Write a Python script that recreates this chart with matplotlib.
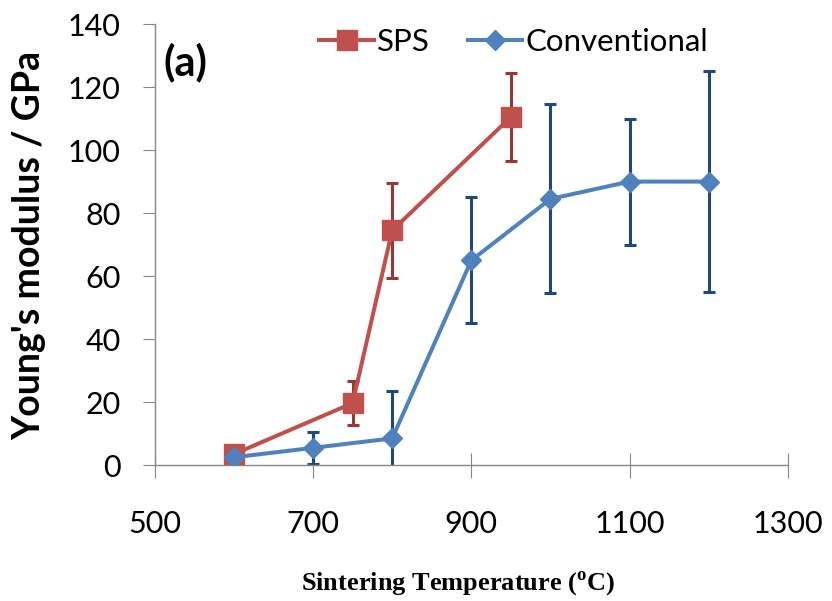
import matplotlib.pyplot as plt

plt.rcParams['mathtext.fontset'] = 'custom'
plt.rcParams['mathtext.rm'] = 'Liberation Serif'
plt.rcParams['mathtext.bf'] = 'Liberation Serif:bold'

# data
sps_t = [600, 750, 800, 950]
sps_e = [3.5, 19.7, 74.5, 110.5]
sps_err = [0, 7, 15, 14]

conv_t = [600, 700, 800, 900, 1000, 1100, 1200]
conv_e = [2.5, 5.5, 8.5, 65, 84.5, 90, 90]
conv_err = [0, 5, 15, 20, 30, 20, 35]

xticks = [500, 700, 900, 1100, 1300]
yticks = [0, 20, 40, 60, 80, 100, 120, 140]

fig = plt.figure(figsize=(8.32, 6.01), dpi=100)
ax = fig.add_axes([0.186, 0.226, 0.761, 0.734])

ax.errorbar(sps_t, sps_e, yerr=sps_err, fmt='none', ecolor='#953735',
            elinewidth=2.2, capsize=4.3, capthick=2.2, zorder=2)
ax.errorbar(conv_t, conv_e, yerr=conv_err, fmt='none', ecolor='#1F497D',
            elinewidth=2.2, capsize=4.3, capthick=2.2, zorder=2)
ax.plot(sps_t, sps_e, color='#C0504D', lw=2.9, marker='s', ms=14,
        label='SPS', zorder=3)
ax.plot(conv_t, conv_e, color='#4F81BD', lw=2.9, marker='D', ms=10.5,
        label='Conventional', zorder=4)

ax.set_xlim(500, 1300)
ax.set_ylim(0, 140)
ax.set_xticks(xticks)
ax.set_yticks(yticks)

for s in ['top', 'right']:
    ax.spines[s].set_visible(False)
for s in ['left', 'bottom']:
    ax.spines[s].set_color('#868686')
    ax.spines[s].set_linewidth(1)
ax.tick_params(axis='x', direction='inout', length=18, color='#868686',
               labelsize=22, pad=23)
ax.tick_params(axis='y', direction='out', length=8.6, color='#868686',
               labelsize=22, pad=16)
for lab in ax.get_xticklabels() + ax.get_yticklabels():
    lab.set_family('Lato')

ax.set_ylabel("Young's modulus / GPa", fontsize=27, fontweight='bold',
              family='Lato')
ax.yaxis.set_label_coords(-0.172, 0.497)
ax.set_xlabel(r'Sintering Temperature ($^{\mathbf{o}}$C)', fontsize=19,
              fontweight='bold', family='Liberation Serif')
ax.xaxis.set_label_coords(0.479, -0.235)

ax.text(0.014, 0.912, '(a)', transform=ax.transAxes, fontsize=30,
        fontweight='bold', family='Lato', va='center')

ax.legend(loc='center', bbox_to_anchor=(0.567, 0.959), ncol=2,
          frameon=False, prop={'family': 'Lato', 'size': 22.5},
          handlelength=1.75, handletextpad=0.1, columnspacing=1.2,
          markerscale=1.0, borderpad=0)

fig.savefig('out.png', dpi=100)
